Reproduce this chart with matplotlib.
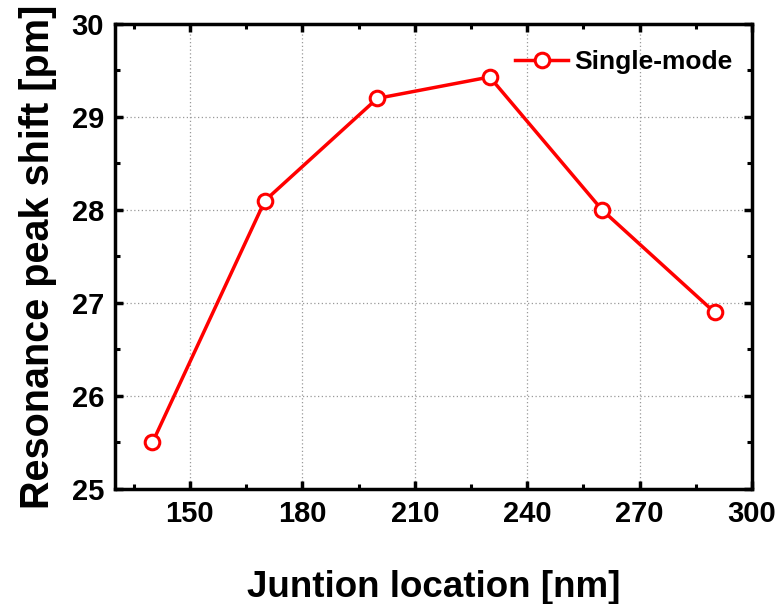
import numpy as np
import matplotlib.pyplot as plt
from matplotlib.ticker import MultipleLocator

# data
junction = [140, 170, 200, 230, 260, 290]
shift = [25.5, 28.1, 29.2, 29.43, 28.0, 26.9]

plt.rcParams['font.family'] = ['Liberation Sans', 'DejaVu Sans']
plt.rcParams['font.weight'] = 'bold'

fig = plt.figure(figsize=(7.78, 6.04), dpi=100)
ax = fig.add_axes([0.1478, 0.1904, 0.8188, 0.7699])

ax.plot(junction, shift, color='red', lw=2.5, marker='o', ms=10.5,
        mfc='white', mec='red', mew=2.2, label='Single-mode', zorder=3)

ax.set_xlim(130, 300)
ax.set_ylim(25, 30)
ax.xaxis.set_major_locator(MultipleLocator(30))
ax.xaxis.set_minor_locator(MultipleLocator(15))
ax.yaxis.set_major_locator(MultipleLocator(1))
ax.yaxis.set_minor_locator(MultipleLocator(0.5))
ax.set_xticks([150, 180, 210, 240, 270, 300])

ax.grid(True, which='major', ls=(0, (1, 2)), color='#999999', lw=0.9)
for s in ax.spines.values():
    s.set_linewidth(2.5)
ax.tick_params(which='both', direction='in', top=True, right=True, labelsize=21)
ax.tick_params(which='major', length=6, width=2.5, pad=8)
ax.tick_params(which='minor', length=3.5, width=2.2)

ax.set_xlabel('Juntion location [nm]', fontsize=26.5, fontweight='bold', labelpad=30)
ax.set_ylabel('Resonance peak shift [pm]', fontsize=28.5, fontweight='bold', labelpad=10)

leg = ax.legend(loc='upper right', bbox_to_anchor=(0.97, 0.943), frameon=False,
                fontsize=19, handlelength=2.0, handletextpad=0.25,
                borderaxespad=0, borderpad=0)

fig.savefig('out.png', dpi=100)
